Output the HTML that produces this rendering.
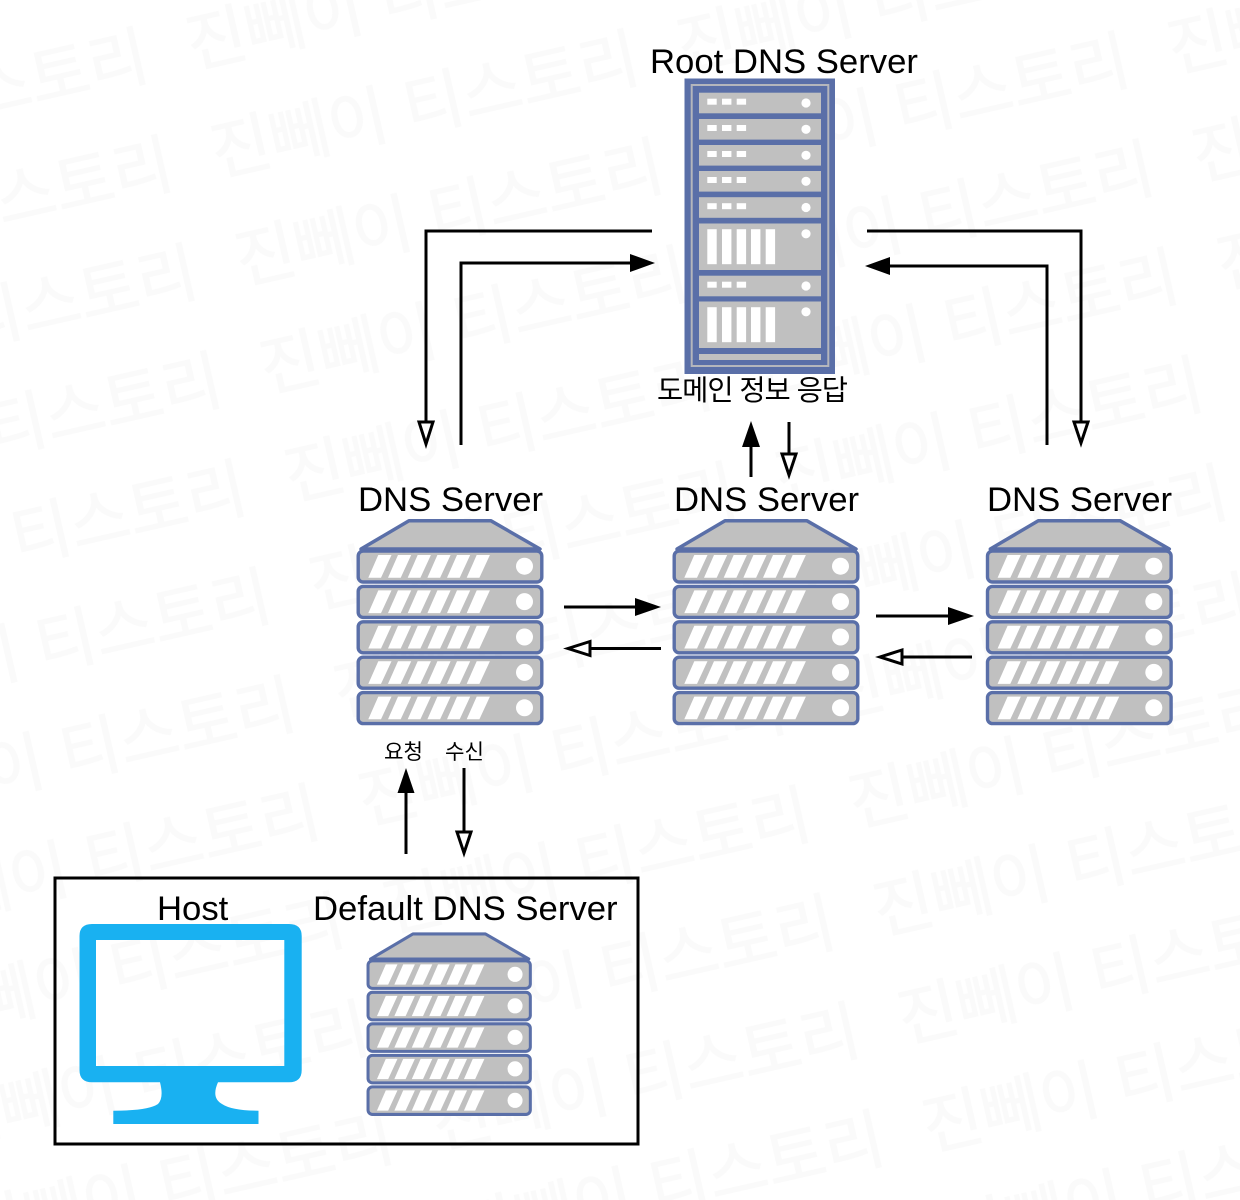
<!DOCTYPE html>
<html lang="ko"><head><meta charset="utf-8"><title>DNS diagram</title>
<style>
html,body{margin:0;padding:0;background:#fff;width:1240px;height:1200px;overflow:hidden}
svg{display:block}
.l{font-family:"Liberation Sans",Arial,sans-serif;font-size:34.7px;fill:#000}
.k{font-family:"Liberation Sans","Noto Sans CJK KR",sans-serif;fill:#000}
.w{font-family:"Liberation Sans","Noto Sans CJK KR",sans-serif;font-size:65px;fill:#fafafa;stroke:#fafafa;stroke-width:1}
.line{fill:none;stroke:#000;stroke-width:3}
.op{fill:#fff;stroke:#000;stroke-width:3}
</style></head><body>
<svg width="1240" height="1200" viewBox="0 0 1240 1200" xmlns="http://www.w3.org/2000/svg">
<defs>
<pattern id="wm" patternUnits="userSpaceOnUse" x="0" y="-80" width="478" height="110.8" patternTransform="translate(217 176) rotate(-12.8)">
<text class="w" x="0" y="80">진뻬이 티스토리</text>
</pattern>
<g id="st">
<path d="M378.300 555h13.200l-10.500 22.700h-12.700z" fill="#fff"/>
<path d="M398 555h13.200l-10.500 22.700h-12.700z" fill="#fff"/>
<path d="M417.700 555h13.200l-10.500 22.700h-12.700z" fill="#fff"/>
<path d="M437.400 555h13.200l-10.500 22.700h-12.700z" fill="#fff"/>
<path d="M457 555h13.200l-10.500 22.700h-12.700z" fill="#fff"/>
<path d="M476.700 555h13.200l-10.500 22.700h-12.700z" fill="#fff"/>
</g>
<g id="pn">
<rect x="358.200" y="551" width="183.600" height="31" rx="5" fill="#c0c0c0" stroke="#5a6fa8" stroke-width="3.400"/>
<use href="#st"/>
<circle cx="524.500" cy="566.200" r="8.500" fill="#fff"/>
</g>
<g id="srv">
<path d="M409 520.800H491L540 549H361Z" fill="#c0c0c0" stroke="#5a6fa8" stroke-width="3.500" stroke-linejoin="round"/>
<use href="#pn"/>
<use href="#pn" y="35.400"/>
<use href="#pn" y="70.800"/>
<use href="#pn" y="106.200"/>
<use href="#pn" y="141.600"/>
</g>
<g id="sp">
<rect x="699" y="0" width="122" height="20.600" fill="#c0c0c0"/>
<rect x="707.300" y="6" width="9.400" height="6" fill="#fff"/>
<rect x="722" y="6" width="9.400" height="6" fill="#fff"/>
<rect x="736.700" y="6" width="9.400" height="6" fill="#fff"/>
<circle cx="806" cy="10.300" r="4.600" fill="#fff"/>
</g>
<g id="tp">
<rect x="699" y="0" width="122" height="46.500" fill="#c0c0c0"/>
<rect x="707.300" y="5.700" width="9.400" height="35" fill="#fff"/>
<rect x="722" y="5.700" width="9.400" height="35" fill="#fff"/>
<rect x="736.700" y="5.700" width="9.400" height="35" fill="#fff"/>
<rect x="751" y="5.700" width="9.400" height="35" fill="#fff"/>
<rect x="765.700" y="5.700" width="9.400" height="35" fill="#fff"/>
<circle cx="806" cy="10.300" r="4.600" fill="#fff"/>
</g>
</defs>
<rect width="1240" height="1200" fill="#fff"/>
<rect width="1240" height="1200" fill="url(#wm)"/>

<!-- root rack -->
<rect x="684.500" y="78.500" width="150.500" height="295.500" fill="#5a6fa8"/>
<rect x="691.700" y="85" width="136.600" height="281" fill="none" stroke="#b4b6bc" stroke-width="2"/>
<use href="#sp" y="92.700"/>
<use href="#sp" y="119"/>
<use href="#sp" y="145"/>
<use href="#sp" y="171"/>
<use href="#sp" y="197.200"/>
<use href="#tp" y="223.500"/>
<use href="#sp" y="275.700"/>
<use href="#tp" y="301.500"/>
<rect x="699" y="354" width="122" height="6" fill="#c0c0c0"/>

<!-- servers -->
<use href="#srv"/>
<use href="#srv" x="316"/>
<use href="#srv" x="629.300"/>
<use href="#srv" transform="translate(366.700 959.300) scale(.884 .89) translate(-356.700 -549.300)"/>

<!-- monitor -->
<path fill-rule="evenodd" fill="#19b1f1" d="M92 924H289Q301.700 924 301.700 936V1070Q301.700 1082.300 289 1082.300H218Q211 1098 222 1104Q232 1110.700 258.500 1110.700V1124H113.300V1110.700Q148 1110.700 158 1104Q164 1098 160 1082.300H92Q79.500 1082.300 79.500 1070V936Q79.500 924 92 924ZM96 940V1066H284.300V940Z"/>

<!-- box -->
<rect x="55" y="878" width="583" height="266" fill="none" stroke="#000" stroke-width="3"/>

<!-- connectors -->
<path class="line" d="M652 231H426V422"/>
<path class="op" d="M419 422H433L426 444Z"/>
<path class="line" d="M461 445V263H632"/>
<path d="M630 254L655 263L630 272Z"/>
<path class="line" d="M867 231H1081V422"/>
<path class="op" d="M1074 422H1088L1081 443Z"/>
<path class="line" d="M1047 445V266H888"/>
<path d="M890 257L865 266L890 275Z"/>
<path class="line" d="M751 477V445"/>
<path d="M742 447L751 421L760 447Z"/>
<path class="line" d="M789 422V454"/>
<path class="op" d="M782 454H796L789 475Z"/>
<path class="line" d="M564 607H637"/>
<path d="M635 598L661 607L635 616Z"/>
<path class="line" d="M661 648.500H590"/>
<path class="op" d="M590 641.500V655.500L568 648.500Z"/>
<path class="line" d="M876 616H950"/>
<path d="M948 607L974 616L948 625Z"/>
<path class="line" d="M972 657H902"/>
<path class="op" d="M902 650V664L880 657Z"/>
<path class="line" d="M406 854V791"/>
<path d="M397.500 793L406 768L414.500 793Z"/>
<path class="line" d="M464 768V832"/>
<path class="op" d="M457 832H471L464 853Z"/>

<!-- labels -->
<text class="l" x="650" y="73">Root DNS Server</text>
<text class="l" x="358" y="511">DNS Server</text>
<text class="l" x="674" y="511">DNS Server</text>
<text class="l" x="987" y="511">DNS Server</text>
<text class="l" x="157" y="920">Host</text>
<text class="l" x="313" y="920">Default DNS Server</text>
<text class="k" x="657" y="400" font-size="28.500" textLength="191">도메인 정보 응답</text>
<text class="k" x="384" y="759" font-size="21" textLength="39" lengthAdjust="spacingAndGlyphs">요청</text>
<text class="k" x="445" y="759" font-size="21" textLength="39" lengthAdjust="spacingAndGlyphs">수신</text>
</svg>
</body></html>
